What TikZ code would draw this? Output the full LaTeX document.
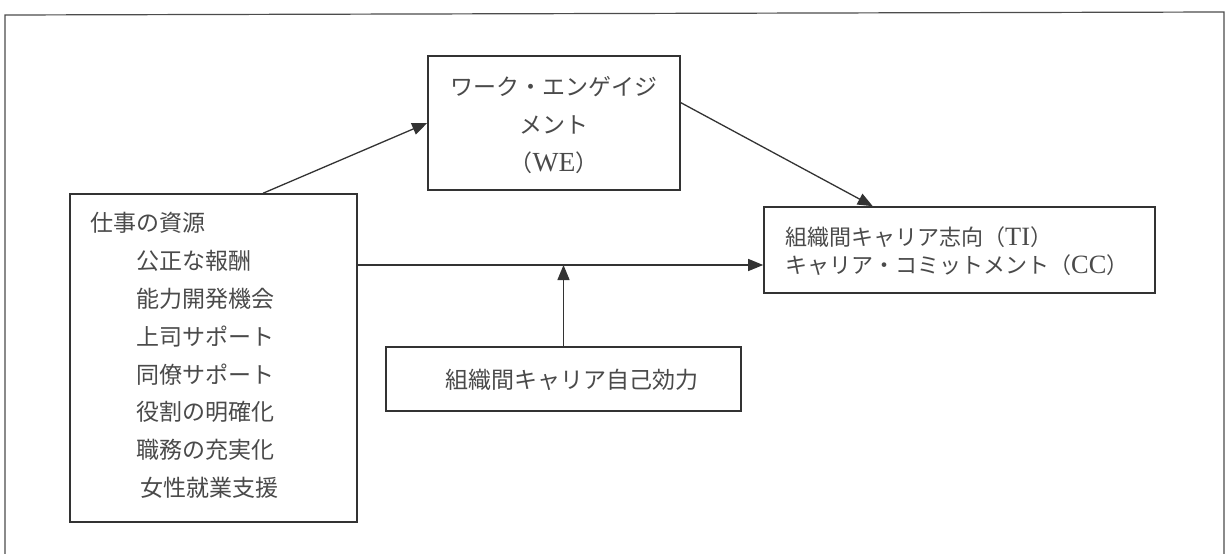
\documentclass[tikz,border=0pt]{standalone}
\usepackage{fontspec}
\usetikzlibrary{arrows.meta,calc}
\newfontfamily\jp{Noto Sans CJK JP}
\newfontfamily\lat[Scale=1.2]{Liberation Serif}
\definecolor{ln}{HTML}{333333}
\definecolor{tx}{HTML}{4A4A4A}
\tikzset{
  box/.style={draw=ln, line width=1.6pt, rectangle, inner sep=0pt},
  lbl/.style={text=tx, inner sep=0pt, font=\jp\fontsize{23}{37.8}\selectfont},
  arr/.style={draw=ln, line width=1.3pt, -{Triangle[length=15pt,width=12pt]}},
  frame/.style={draw=black!70, line width=1.2pt}
}
\begin{document}
\begin{tikzpicture}[x=1pt,y=-1pt]
\useasboundingbox (0,0) rectangle (1229,554);
\fill[white] (0,0) rectangle (1229,554);
\draw[frame] (5,554) -- (5,15) -- (1224,12) -- (1224,554);
% boxes
\node[box, minimum width=252pt, minimum height=134pt] (we) at (554,123) {};
\node[box, minimum width=287pt, minimum height=328pt] (src) at (213.5,358) {};
\node[box, minimum width=391pt, minimum height=86pt] (out) at (959.5,250) {};
\node[box, minimum width=355pt, minimum height=64pt] (mod) at (563.5,379) {};
% texts
\node[lbl, align=center] (wet) at (554,125) {ワーク・エンゲイジ\\メント\\（{\lat WE}）};
\node[lbl, align=left, anchor=west] (srct) at (90,355.5) {仕事の資源\\
\hspace{2em}公正な報酬\\
\hspace{2em}能力開発機会\\
\hspace{2em}上司サポート\\
\hspace{2em}同僚サポート\\
\hspace{2em}役割の明確化\\
\hspace{2em}職務の充実化\\
\hspace{2.2em}女性就業支援};
\node[lbl, align=left, anchor=west, font=\jp\fontsize{22}{28}\selectfont] (outt) at (785,251) {組織間キャリア志向（{\lat TI}）\\キャリア・コミットメント（{\lat CC}）};
\node[lbl] (modt) at (572,380) {組織間キャリア自己効力};
% connectors
\coordinate (h) at (0,265);
\draw[arr] ($(src.north west)!0.672!(src.north east)$) -- (we.west);
\draw[arr] ($(we.north east)!0.35!(we.south east)$) -- ($(out.north west)!0.279!(out.north east)$);
\draw[arr] (src.east |- h) -- (out.west |- h);
\draw[arr] (mod.north) -- (mod.north |- h);
\end{tikzpicture}
\end{document}
